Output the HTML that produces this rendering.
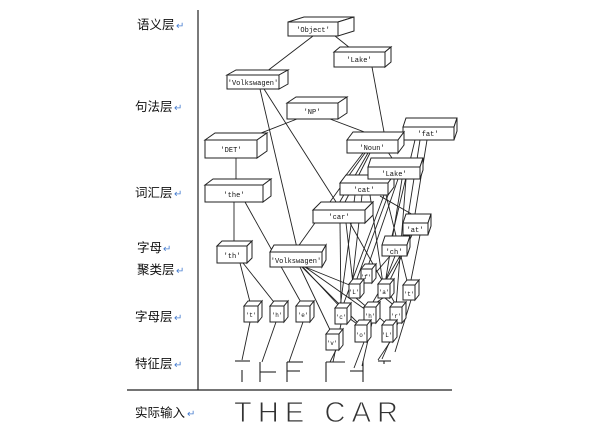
<!DOCTYPE html>
<html><head><meta charset="utf-8"><style>
html,body{margin:0;padding:0;background:#fff;}
svg{display:block;}
.l{font-family:"Liberation Sans","Noto Sans CJK SC",sans-serif;font-size:12.5px;fill:#111;}
.r{font-family:"Liberation Sans","Noto Sans CJK SC",sans-serif;font-size:10px;fill:#4a7fd0;}
.b{font-family:"Liberation Mono",monospace;font-size:7px;fill:#111;text-anchor:middle;}
.s{font-family:"Liberation Mono",monospace;font-size:6px;fill:#111;text-anchor:middle;}
</style></head><body>
<svg width="600" height="432" viewBox="0 0 600 432" xmlns="http://www.w3.org/2000/svg">
<rect width="600" height="432" fill="#fff"/>
<g stroke="#222" stroke-width="1.2" fill="none">
<line x1="198" y1="10" x2="198" y2="390"/>
<line x1="127" y1="390" x2="452" y2="390"/>
</g>
<text class="l" x="137" y="29">语义层</text><text class="r" x="176" y="29">↵</text>
<text class="l" x="135" y="111">句法层</text><text class="r" x="174" y="111">↵</text>
<text class="l" x="135" y="197">词汇层</text><text class="r" x="174" y="197">↵</text>
<text class="l" x="137" y="252">字母</text><text class="r" x="163" y="252">↵</text>
<text class="l" x="137" y="274">聚类层</text><text class="r" x="176" y="274">↵</text>
<text class="l" x="135" y="321">字母层</text><text class="r" x="174" y="321">↵</text>
<text class="l" x="135" y="368">特征层</text><text class="r" x="174" y="368">↵</text>
<text class="l" x="135" y="417">实际输入</text><text class="r" x="187" y="417">↵</text>

<g stroke="#222" stroke-width="0.9" fill="none">
<line x1="313" y1="36" x2="262" y2="75"/>
<line x1="335" y1="36" x2="355" y2="52"/>
<line x1="372" y1="67" x2="384" y2="132"/>
<line x1="383" y1="145" x2="392" y2="158"/>
<line x1="297" y1="119" x2="243" y2="140"/>
<line x1="330" y1="119" x2="375" y2="136"/>
<line x1="236" y1="158" x2="236" y2="180"/>
<line x1="260" y1="89" x2="297" y2="248"/>
<line x1="264" y1="89" x2="338" y2="205"/>
<line x1="365" y1="153" x2="297" y2="248"/>
<line x1="368" y1="153" x2="338" y2="205"/>
<line x1="370" y1="153" x2="345" y2="202"/>
<line x1="363" y1="153" x2="340" y2="183"/>
<line x1="394" y1="179" x2="355" y2="284"/>
<line x1="398" y1="179" x2="367" y2="269"/>
<line x1="402" y1="179" x2="385" y2="284"/>
<line x1="406" y1="179" x2="396" y2="307"/>
<line x1="390" y1="179" x2="342" y2="308"/>
<line x1="415" y1="140" x2="392" y2="236"/>
<line x1="427" y1="140" x2="415" y2="214"/>
<line x1="420" y1="140" x2="405" y2="236"/>
<line x1="380" y1="196" x2="415" y2="216"/>
<line x1="355" y1="195" x2="340" y2="308"/>
<line x1="370" y1="195" x2="383" y2="284"/>
<line x1="386" y1="195" x2="408" y2="285"/>
<line x1="362" y1="195" x2="352" y2="284"/>
<line x1="340" y1="223" x2="341" y2="308"/>
<line x1="346" y1="223" x2="353" y2="284"/>
<line x1="350" y1="223" x2="397" y2="307"/>
<line x1="300" y1="267" x2="332" y2="334"/>
<line x1="303" y1="267" x2="341" y2="308"/>
<line x1="305" y1="267" x2="352" y2="286"/>
<line x1="305" y1="267" x2="366" y2="310"/>
<line x1="302" y1="267" x2="360" y2="325"/>
<line x1="245" y1="202" x2="303" y2="306"/>
<line x1="234" y1="202" x2="234" y2="241"/>
<line x1="240" y1="263" x2="251" y2="306"/>
<line x1="243" y1="263" x2="277" y2="306"/>
<line x1="390" y1="256" x2="367" y2="283"/>
<line x1="395" y1="256" x2="384" y2="284"/>
<line x1="400" y1="256" x2="370" y2="307"/>
<line x1="420" y1="235" x2="410" y2="285"/>
<line x1="412" y1="235" x2="388" y2="284"/>
<line x1="356" y1="298" x2="388" y2="325"/>
<line x1="385" y1="298" x2="396" y2="307"/>
<line x1="383" y1="298" x2="370" y2="307"/>
<line x1="346" y1="316" x2="360" y2="326"/>
<line x1="250" y1="322" x2="242" y2="360"/>
<line x1="276" y1="322" x2="262" y2="362"/>
<line x1="303" y1="322" x2="289" y2="362"/>
<line x1="336" y1="350" x2="330" y2="362"/>
<line x1="341" y1="324" x2="333" y2="362"/>
<line x1="364" y1="342" x2="354" y2="368"/>
<line x1="372" y1="323" x2="362" y2="366"/>
<line x1="390" y1="342" x2="378" y2="360"/>
<line x1="398" y1="323" x2="382" y2="359"/>
<line x1="411" y1="300" x2="395" y2="352"/>
</g>

<g stroke="#222" stroke-width="1" fill="#fff">
<polygon points="288,22 304,17 354,17 338,22"/><polygon points="338,22 354,17 354,31 338,36"/><rect x="288" y="22" width="50" height="14"/>
<polygon points="334,52 340,47 391,47 385,52"/><polygon points="385,52 391,47 391,62 385,67"/><rect x="334" y="52" width="51" height="15"/>
<polygon points="227,75 236,70 288,70 279,75"/><polygon points="279,75 288,70 288,84 279,89"/><rect x="227" y="75" width="52" height="14"/>
<polygon points="287,103 296,97 347,97 338,103"/><polygon points="338,103 347,97 347,113 338,119"/><rect x="287" y="103" width="51" height="16"/>
<polygon points="205,140 215,133 267,133 257,140"/><polygon points="257,140 267,133 267,151 257,158"/><rect x="205" y="140" width="52" height="18"/>
<polygon points="403,127 406,118 457,118 454,127"/><polygon points="454,127 457,118 457,131 454,140"/><rect x="403" y="127" width="51" height="13"/>
<polygon points="347,140 353,132 404,132 398,140"/><polygon points="398,140 404,132 404,145 398,153"/><rect x="347" y="140" width="51" height="13"/>
<polygon points="340,183 346,175 394,175 388,183"/><polygon points="388,183 394,175 394,187 388,195"/><rect x="340" y="183" width="48" height="12"/>
<polygon points="368,167 371,158 423,158 420,167"/><polygon points="420,167 423,158 423,170 420,179"/><rect x="368" y="167" width="52" height="12"/>
<polygon points="205,185 213,179 271,179 263,185"/><polygon points="263,185 271,179 271,196 263,202"/><rect x="205" y="185" width="58" height="17"/>
<polygon points="313,210 321,202 373,202 365,210"/><polygon points="365,210 373,202 373,215 365,223"/><rect x="313" y="210" width="52" height="13"/>
<polygon points="403,223 406,214 431,214 428,223"/><polygon points="428,223 431,214 431,226 428,235"/><rect x="403" y="223" width="25" height="12"/>
<polygon points="382,245 385,236 410,236 407,245"/><polygon points="407,245 410,236 410,247 407,256"/><rect x="382" y="245" width="25" height="11"/>
<polygon points="217,246 222,241 252,241 247,246"/><polygon points="247,246 252,241 252,258 247,263"/><rect x="217" y="246" width="30" height="17"/>
<polygon points="270,252 274,245 326,245 322,252"/><polygon points="322,252 326,245 326,260 322,267"/><rect x="270" y="252" width="52" height="15"/>
<polygon points="361,269 365,264 376,264 372,269"/><polygon points="372,269 376,264 376,278 372,283"/><rect x="361" y="269" width="11" height="14"/>
<polygon points="349,284 353,279 364,279 360,284"/><polygon points="360,284 364,279 364,293 360,298"/><rect x="349" y="284" width="11" height="14"/>
<polygon points="378,284 382,279 394,279 390,284"/><polygon points="390,284 394,279 394,293 390,298"/><rect x="378" y="284" width="12" height="14"/>
<polygon points="403,285 407,280 419,280 415,285"/><polygon points="415,285 419,280 419,295 415,300"/><rect x="403" y="285" width="12" height="15"/>
<polygon points="244,306 248,301 262,301 258,306"/><polygon points="258,306 262,301 262,317 258,322"/><rect x="244" y="306" width="14" height="16"/>
<polygon points="270,306 274,301 288,301 284,306"/><polygon points="284,306 288,301 288,317 284,322"/><rect x="270" y="306" width="14" height="16"/>
<polygon points="296,306 300,301 314,301 310,306"/><polygon points="310,306 314,301 314,317 310,322"/><rect x="296" y="306" width="14" height="16"/>
<polygon points="335,308 339,303 351,303 347,308"/><polygon points="347,308 351,303 351,319 347,324"/><rect x="335" y="308" width="12" height="16"/>
<polygon points="364,307 368,302 380,302 376,307"/><polygon points="376,307 380,302 380,318 376,323"/><rect x="364" y="307" width="12" height="16"/>
<polygon points="390,307 394,302 406,302 402,307"/><polygon points="402,307 406,302 406,318 402,323"/><rect x="390" y="307" width="12" height="16"/>
<polygon points="326,334 330,329 343,329 339,334"/><polygon points="339,334 343,329 343,345 339,350"/><rect x="326" y="334" width="13" height="16"/>
<polygon points="355,325 359,320 371,320 367,325"/><polygon points="367,325 371,320 371,337 367,342"/><rect x="355" y="325" width="12" height="17"/>
<polygon points="382,325 386,320 397,320 393,325"/><polygon points="393,325 397,320 397,337 393,342"/><rect x="382" y="325" width="11" height="17"/>
</g>

<text class="b" x="313" y="32">'Object'</text>
<text class="b" x="359" y="62">'Lake'</text>
<text class="b" x="253" y="85">'Volkswagen'</text>
<text class="b" x="312" y="114">'NP'</text>
<text class="b" x="231" y="152">'DET'</text>
<text class="b" x="428" y="136">'fat'</text>
<text class="b" x="372" y="150">'Noun'</text>
<text class="b" x="364" y="192">'cat'</text>
<text class="b" x="394" y="176">'Lake'</text>
<text class="b" x="234" y="197">'the'</text>
<text class="b" x="339" y="219">'car'</text>
<text class="b" x="415" y="232">'at'</text>
<text class="b" x="394" y="254">'ch'</text>
<text class="b" x="232" y="258">'th'</text>
<text class="b" x="296" y="263">'Volkswagen'</text>
<text class="s" x="366" y="279">'f'</text>
<text class="s" x="354" y="294">'L'</text>
<text class="s" x="384" y="294">'a'</text>
<text class="s" x="409" y="296">'t'</text>
<text class="s" x="251" y="317">'t'</text>
<text class="s" x="277" y="317">'h'</text>
<text class="s" x="303" y="317">'e'</text>
<text class="s" x="341" y="319">'c'</text>
<text class="s" x="370" y="318">'h'</text>
<text class="s" x="396" y="318">'r'</text>
<text class="s" x="332" y="345">'v'</text>
<text class="s" x="361" y="337">'o'</text>
<text class="s" x="387" y="337">'L'</text>

<g stroke="#222" stroke-width="1.1" fill="none">
<line x1="235" y1="361" x2="250" y2="361"/><line x1="242" y1="370" x2="242" y2="382"/>
<line x1="260" y1="362" x2="260" y2="382"/><line x1="260" y1="372" x2="276" y2="372"/>
<line x1="287" y1="362" x2="287" y2="382"/><line x1="287" y1="362" x2="303" y2="362"/><line x1="287" y1="371" x2="300" y2="371"/>
<line x1="326" y1="362" x2="326" y2="382"/><line x1="326" y1="362" x2="345" y2="362"/>
<line x1="363" y1="361" x2="363" y2="382"/><line x1="350" y1="371" x2="363" y2="371"/>
<line x1="378" y1="361" x2="391" y2="361"/><line x1="384" y1="361" x2="384" y2="364"/>
</g>

<text x="234" y="422" font-family="Liberation Sans, sans-serif" font-size="29" fill="#333" stroke="#fff" stroke-width="0.9" textLength="164" lengthAdjust="spacing">THE CAR</text>
</svg>
</body></html>
